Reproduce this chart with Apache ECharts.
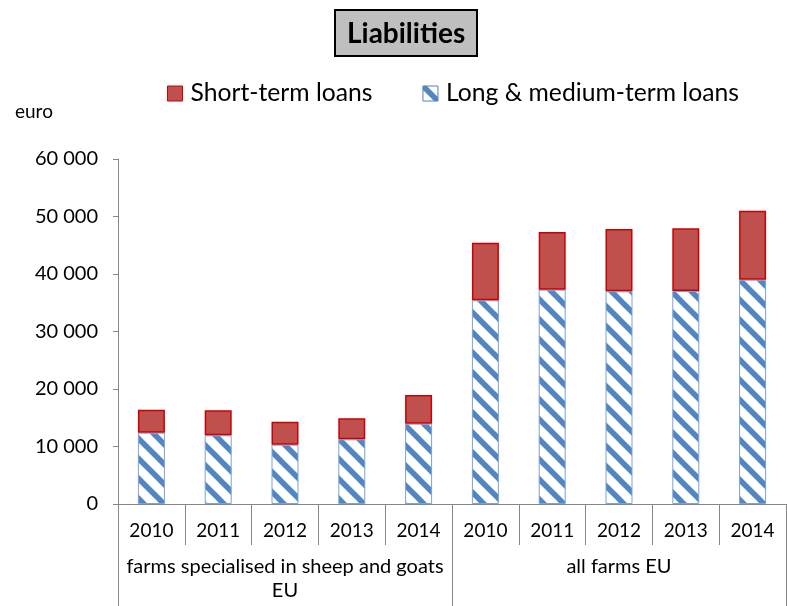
<!DOCTYPE html>
<html>
<head>
<meta charset="utf-8">
<script src="https://cdn.jsdelivr.net/npm/echarts@6/dist/echarts.min.js"></script>
<style>
  html, body { margin: 0; padding: 0; background: #fff; }
  #chart { width: 787px; height: 606px; }
</style>
</head>
<body>
<div id="chart"></div>
<script>
// Farm liabilities per farm, euro
const years = ['2010', '2011', '2012', '2013', '2014', '2010', '2011', '2012', '2013', '2014'];
const groups = ['farms specialised in sheep and goats\nEU', 'all farms EU'];
const longTermLoans = [12400, 11950, 10310, 11250, 13970, 35430, 37270, 36990, 37040, 39010];
const shortTermLoans = [4000, 4350, 4000, 3650, 5000, 10000, 10030, 10840, 10910, 12000];
const yTicks = [0, 10000, 20000, 30000, 40000, 50000, 60000];

const FONT = 'Lato';

// Diagonal blue hatching for the long & medium-term loans
function makeHatch() {
  const size = 20;
  const c = document.createElement('canvas');
  c.width = size; c.height = size;
  const g = c.getContext('2d');
  g.fillStyle = '#ffffff';
  g.fillRect(0, 0, size, size);
  g.strokeStyle = '#5286c2';
  g.lineWidth = 5.5;
  g.lineCap = 'square';
  for (let k = -1; k <= 1; k++) {
    g.beginPath();
    g.moveTo(k * size - 2, -2);
    g.lineTo(k * size + size + 2, size + 2);
    g.stroke();
  }
  return c;
}
const hatch = { image: makeHatch(), repeat: 'repeat' };

const fmt = v => String(v).replace(/\B(?=(\d{3})+(?!\d))/g, ' ');

const chart = echarts.init(document.getElementById('chart'), null, { renderer: 'canvas' });
chart.setOption({
  animation: false,
  backgroundColor: '#ffffff',
  textStyle: { fontFamily: FONT },
  title: {
    text: 'Liabilities',
    left: 335,
    top: 10,
    padding: [7, 12, 6, 12],
    backgroundColor: '#bfbfbf',
    borderColor: '#000000',
    borderWidth: 2,
    textStyle: { fontFamily: FONT, fontWeight: 'bold', fontSize: 28, color: '#000', lineHeight: 33 }
  },
  legend: {
    top: 76,
    left: 162,
    itemWidth: 15,
    itemHeight: 15,
    itemGap: 50,
    icon: 'rect',
    textStyle: { fontFamily: FONT, fontSize: 24.7, color: '#000', padding: [0, 0, 0, 3] },
    data: [
      { name: 'Short-term loans', itemStyle: { color: '#c0504d', borderColor: '#cc0000', borderWidth: 1 } },
      { name: 'Long & medium-term loans', itemStyle: { color: hatch, borderColor: '#4f81bd', borderWidth: 1 } }
    ]
  },
  graphic: [{
    type: 'text', left: 15, top: 102,
    style: { text: 'euro', fontFamily: FONT, fontSize: 19, fill: '#000' }
  }],
  grid: { left: 118, right: 1, top: 159, bottom: 102, containLabel: false },
  xAxis: [{
    type: 'category',
    data: years,
    position: 'bottom',
    axisLine: { show: true, lineStyle: { color: '#868686', width: 1 } },
    axisTick: { show: true, length: 41, interval: 0, lineStyle: { color: '#868686' } },
    axisLabel: { interval: 0, margin: 17, fontFamily: FONT, fontSize: 19, color: '#000' }
  }, {
    type: 'category',
    data: groups,
    position: 'bottom',
    offset: 41,
    axisLine: { show: false },
    axisTick: { show: true, length: 70, interval: 0, lineStyle: { color: '#868686' } },
    axisLabel: { interval: 0, margin: 10, fontFamily: FONT, fontSize: 20, lineHeight: 24, color: '#000' }
  }],
  yAxis: {
    type: 'value',
    min: yTicks[0],
    max: yTicks[yTicks.length - 1],
    interval: yTicks[1] - yTicks[0],
    axisLine: { show: true, lineStyle: { color: '#868686' } },
    axisTick: { show: true, length: 5, lineStyle: { color: '#868686' } },
    splitLine: { show: false },
    axisLabel: { margin: 20, fontFamily: FONT, fontSize: 20, color: '#000', formatter: fmt }
  },
  series: [{
    name: 'Long & medium-term loans',
    type: 'bar',
    stack: 'loans',
    xAxisIndex: 0,
    barWidth: 27,
    data: longTermLoans,
    itemStyle: { color: hatch, borderColor: '#7ba3d6', borderWidth: 1 }
  }, {
    name: 'Short-term loans',
    type: 'bar',
    stack: 'loans',
    xAxisIndex: 0,
    barWidth: 27,
    data: shortTermLoans,
    itemStyle: { color: '#c0504d', borderColor: '#cc0000', borderWidth: 1.5 }
  }]
});
</script>
</body>
</html>
